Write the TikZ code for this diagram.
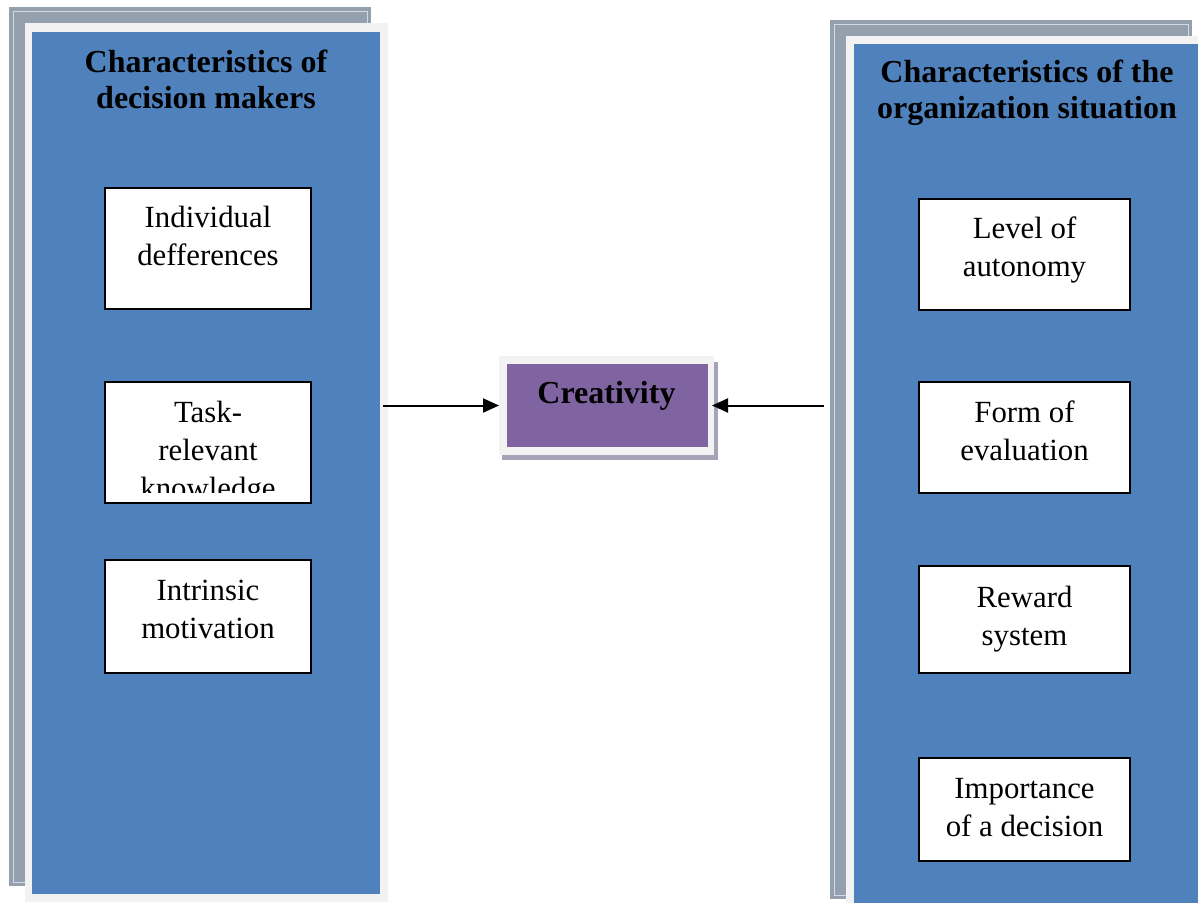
\documentclass[tikz,border=0pt]{standalone}
\usepackage{fontspec}
\setmainfont{Liberation Serif}
\usetikzlibrary{arrows.meta}

\definecolor{panelblue}{HTML}{4F81BD}
\definecolor{panelgray}{HTML}{95A0AF}
\definecolor{framegray}{HTML}{F2F2F2}
\definecolor{linegray}{HTML}{D3DAE3}
\definecolor{boxpurple}{HTML}{8064A2}
\definecolor{shadowpurple}{HTML}{A6A3B9}

% stacked, centred lines whose baseline is the first line
\newcommand{\stacklines}[1]{\begin{tabular}[t]{@{}c@{}}#1\end{tabular}}

\begin{document}
\begin{tikzpicture}[x=1pt,y=-1pt,
  plate/.style={rectangle, inner sep=0pt, outer sep=0pt},
  backplate/.style={plate, fill=panelgray},
  frameplate/.style={plate, fill=framegray},
  blueplate/.style={plate, fill=panelblue},
  innerline/.style={draw=linegray, line width=1pt},
  itembox/.style={plate, draw=black, line width=2pt, fill=white, minimum width=#1},
  itembox/.default=206pt,
  itemtext/.style={inner sep=0pt, anchor=base, font=\fontsize{30.8}{38}\selectfont},
  headtext/.style={inner sep=0pt, anchor=base, font=\fontsize{32}{36}\selectfont\bfseries},
  flow/.style={line width=2pt, -{Triangle[length=16pt,width=14pt]}}
]
\useasboundingbox (0,0) rectangle (1198,902);

% ---------- left panel: decision makers ----------
\node[backplate, minimum width=362pt, minimum height=879pt] (lgray) at (190,446.5) {};
\draw[innerline] ([shift={(4pt,-4pt)}]lgray.north west) rectangle ([shift={(-4pt,4pt)}]lgray.south east);
\node[frameplate, minimum width=363pt, minimum height=879pt] (lframe) at (206.5,462.5) {};
\node[blueplate, minimum width=348pt, minimum height=862pt] (lblue) at (206,463) {};
\node[headtext] (lhead) at (206,72) {\stacklines{Characteristics of\\decision makers}};

\node[itembox, minimum height=121pt] (indiv) at (208,248.5) {};
\node[itemtext] (indivt) at (208,227) {\stacklines{Individual\\defferences}};

\node[itembox, minimum height=121pt] (task) at (208,442.5) {};
\begin{scope}
  \clip (107,384) rectangle (309,492);
  \node[itemtext] (taskt) at (208,422) {\stacklines{Task-\\relevant\\knowledge}};
\end{scope}

\node[itembox, minimum height=113pt] (intr) at (208,616.5) {};
\node[itemtext] (intrt) at (208,600) {\stacklines{Intrinsic\\motivation}};

% ---------- right panel: organization situation ----------
\node[backplate, minimum width=362pt, minimum height=879pt] (rgray) at (1011,459.5) {};
\draw[innerline] ([shift={(4pt,-4pt)}]rgray.north west) rectangle ([shift={(-4pt,4pt)}]rgray.south east);
\node[frameplate, minimum width=363pt, minimum height=879pt] (rframe) at (1027.5,475.5) {};
\node[blueplate, minimum width=348pt, minimum height=862pt] (rblue) at (1028,475) {};
\node[headtext] (rhead) at (1027,82) {\stacklines{Characteristics of the\\organization situation}};

\node[itembox=211pt, minimum height=111pt] (auto) at (1024.5,254.5) {};
\node[itemtext] (autot) at (1024.5,238) {\stacklines{Level of\\autonomy}};

\node[itembox=211pt, minimum height=111pt] (eval) at (1024.5,437.5) {};
\node[itemtext] (evalt) at (1024.5,422) {\stacklines{Form of\\evaluation}};

\node[itembox=211pt, minimum height=107pt] (rew) at (1024.5,619.5) {};
\node[itemtext] (rewt) at (1024.5,607) {\stacklines{Reward\\system}};

\node[itembox=211pt, minimum height=103pt] (imp) at (1024.5,809.5) {};
\node[itemtext] (impt) at (1024.5,798) {\stacklines{Importance\\of a decision}};

% ---------- central outcome ----------
\node[plate, fill=shadowpurple, minimum width=216pt, minimum height=98pt] (cshadow) at (610,411) {};
\node[frameplate, minimum width=215pt, minimum height=99pt] (cframe) at (606.5,405.5) {};
\node[plate, fill=boxpurple, minimum width=201pt, minimum height=83pt] (cbox) at (607.5,405.5) {};
\node[headtext] (creat) at (606.5,403) {Creativity};

% ---------- influences ----------
\draw[flow] ([xshift=3pt]lblue.east |- cframe.west) -- (cframe.west);
\draw[flow] ([xshift=-6pt]rgray.west |- cframe.east) -- ([xshift=-2pt]cframe.east);
\end{tikzpicture}
\end{document}
